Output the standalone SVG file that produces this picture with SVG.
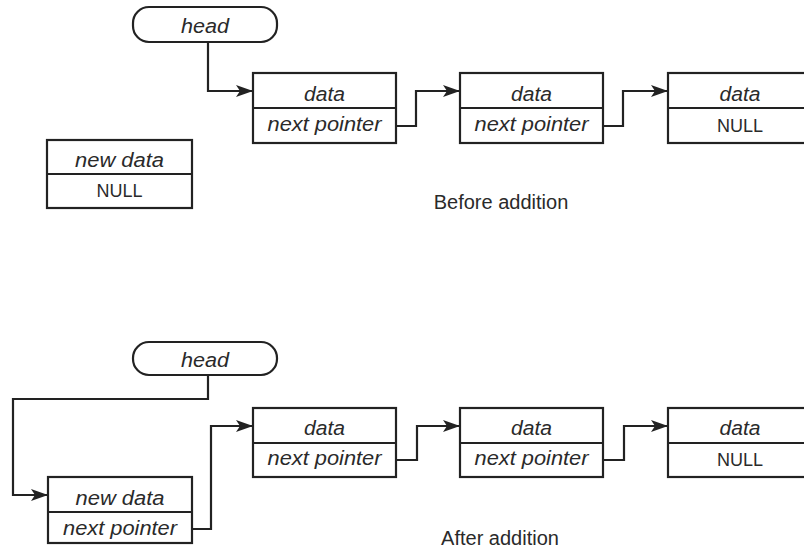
<svg xmlns="http://www.w3.org/2000/svg" width="804" height="550" viewBox="0 0 804 550">
<style>
.box{fill:#fff;stroke:#222;stroke-width:2.2}
.div{stroke:#222;stroke-width:2}
.it{font-family:"Liberation Sans",Arial,sans-serif;font-style:italic;font-size:20px;fill:#2a2a2a;text-anchor:middle}
.nl{font-family:"Liberation Sans",Arial,sans-serif;font-size:18px;fill:#2a2a2a;text-anchor:middle}
.cap{font-family:"Liberation Sans",Arial,sans-serif;font-size:20px;fill:#2a2a2a;text-anchor:middle}
.con{fill:none;stroke:#222;stroke-width:2.2;marker-end:url(#ah)}
</style>
<defs>
<marker id="ah" viewBox="0 0 17 12" refX="17" refY="6" markerWidth="17" markerHeight="12" markerUnits="userSpaceOnUse" orient="auto">
<path d="M0,0 L17,6 L0,12 L4,6 Z" fill="#222"/>
</marker>
</defs>
<rect width="804" height="550" fill="#fff"/>

<g id="connectors">
<path class="con" d="M208,42 V91 H253"/>
<path class="con" d="M396,126 H416 V91 H460"/>
<path class="con" d="M603,126 H623 V91 H668"/>
<path class="con" d="M208,375 V399 H13 V495 H48"/>
<path class="con" d="M192,529 H211 V426 H253"/>
<path class="con" d="M396,460 H417 V426 H460"/>
<path class="con" d="M603,460 H624 V426 H668"/>
</g>

<g id="head1">
<rect class="box" x="133" y="7" width="144" height="35" rx="16" ry="16"/>
<text class="it" x="205" y="33" textLength="48" lengthAdjust="spacingAndGlyphs">head</text>
</g>
<g id="node1a">
<rect class="box" x="253" y="73" width="143" height="70"/>
<line class="div" x1="253" y1="108" x2="396" y2="108"/>
<text class="it" x="324.5" y="101" textLength="41" lengthAdjust="spacingAndGlyphs">data</text>
<text class="it" x="324.5" y="131" textLength="114" lengthAdjust="spacingAndGlyphs">next pointer</text>
</g>
<g id="node2a">
<rect class="box" x="460" y="73" width="143" height="70"/>
<line class="div" x1="460" y1="108" x2="603" y2="108"/>
<text class="it" x="531.5" y="101" textLength="41" lengthAdjust="spacingAndGlyphs">data</text>
<text class="it" x="531.5" y="131" textLength="114" lengthAdjust="spacingAndGlyphs">next pointer</text>
</g>
<g id="node3a">
<rect class="box" x="668" y="73" width="143" height="70"/>
<line class="div" x1="668" y1="108" x2="811" y2="108"/>
<text class="it" x="740" y="101" textLength="41" lengthAdjust="spacingAndGlyphs">data</text>
<text class="nl" x="740" y="132">NULL</text>
</g>
<g id="newnode1">
<rect class="box" x="47" y="140" width="145" height="68"/>
<line class="div" x1="47" y1="174" x2="192" y2="174"/>
<text class="it" x="119.5" y="167" textLength="89" lengthAdjust="spacingAndGlyphs">new data</text>
<text class="nl" x="119.5" y="197">NULL</text>
</g>
<text id="label1" class="cap" x="501" y="209">Before addition</text>

<g id="head2">
<rect class="box" x="133" y="342" width="144" height="33" rx="16" ry="16"/>
<text class="it" x="205" y="367" textLength="48" lengthAdjust="spacingAndGlyphs">head</text>
</g>
<g id="newnode2">
<rect class="box" x="48" y="477" width="144" height="66"/>
<line class="div" x1="48" y1="512" x2="192" y2="512"/>
<text class="it" x="120" y="505" textLength="89" lengthAdjust="spacingAndGlyphs">new data</text>
<text class="it" x="120" y="535" textLength="114" lengthAdjust="spacingAndGlyphs">next pointer</text>
</g>
<g id="node1b">
<rect class="box" x="253" y="408" width="143" height="69"/>
<line class="div" x1="253" y1="443" x2="396" y2="443"/>
<text class="it" x="324.5" y="435" textLength="41" lengthAdjust="spacingAndGlyphs">data</text>
<text class="it" x="324.5" y="465" textLength="114" lengthAdjust="spacingAndGlyphs">next pointer</text>
</g>
<g id="node2b">
<rect class="box" x="460" y="408" width="143" height="69"/>
<line class="div" x1="460" y1="443" x2="603" y2="443"/>
<text class="it" x="531.5" y="435" textLength="41" lengthAdjust="spacingAndGlyphs">data</text>
<text class="it" x="531.5" y="465" textLength="114" lengthAdjust="spacingAndGlyphs">next pointer</text>
</g>
<g id="node3b">
<rect class="box" x="668" y="408" width="143" height="69"/>
<line class="div" x1="668" y1="443" x2="811" y2="443"/>
<text class="it" x="740" y="435" textLength="41" lengthAdjust="spacingAndGlyphs">data</text>
<text class="nl" x="740" y="466">NULL</text>
</g>
<text id="label2" class="cap" x="500" y="545">After addition</text>
</svg>
